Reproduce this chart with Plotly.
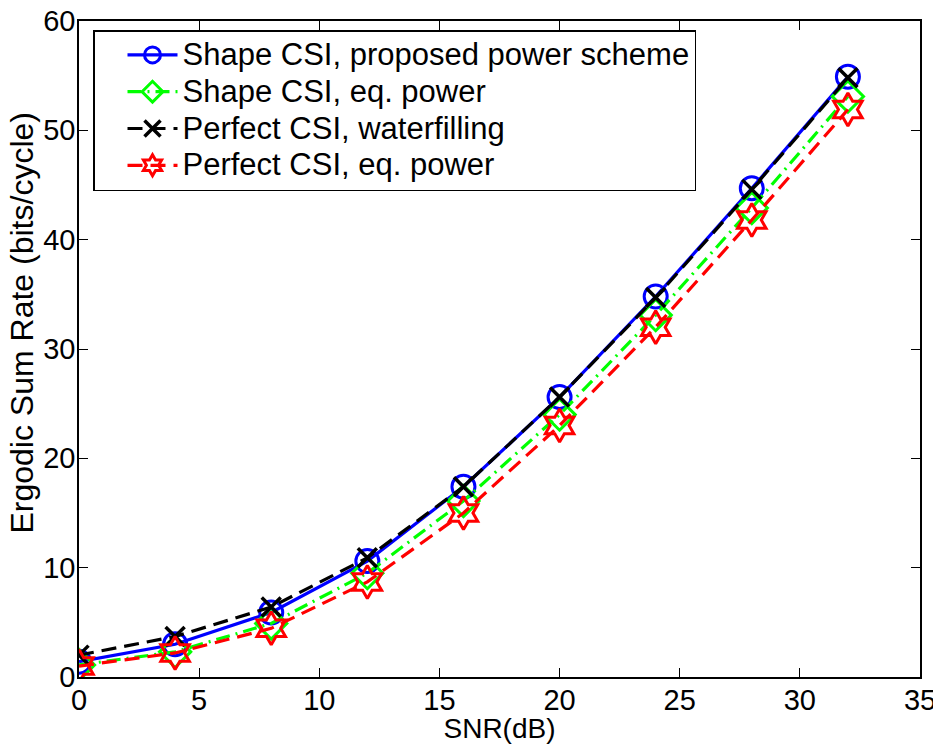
import plotly.graph_objects as go

snr = [0, 4, 8, 12, 16, 20, 24, 28, 32]
shape_prop = [1.4, 3.0, 5.9, 10.6, 17.4, 25.6, 34.8, 44.7, 54.9]
shape_eq = [1.1, 2.3, 4.9, 9.5, 16.1, 24.0, 33.1, 42.9, 53.1]
perf_wf = [2.0, 3.7, 6.4, 10.9, 17.4, 25.6, 34.7, 44.6, 54.8]
perf_eq = [1.0, 2.2, 4.45, 8.7, 15.0, 23.0, 32.0, 41.8, 51.9]

names = ["Shape CSI, proposed power scheme", "Shape CSI, eq. power",
         "Perfect CSI, waterfilling", "Perfect CSI, eq. power"]

FONT = "Liberation Sans, Arial, Helvetica"


def legend_label(s):
    return '<span style="font-size:31px">' + s + '</span>'


fig = go.Figure()
fig.add_trace(go.Scatter(x=snr, y=shape_prop, name=legend_label(names[0]), mode="lines+markers",
                         line=dict(color="#0000ff", width=3.2, dash="solid"),
                         marker=dict(symbol="circle-open", size=23, color="#0000ff",
                                     line=dict(width=3, color="#0000ff"))))
fig.add_trace(go.Scatter(x=snr, y=shape_eq, name=legend_label(names[1]), mode="lines+markers",
                         line=dict(color="#00ff00", width=3.2, dash="14px,6px,2px,6px"),
                         marker=dict(symbol="diamond-open", size=24, color="#00ff00",
                                     line=dict(width=3, color="#00ff00"))))
fig.add_trace(go.Scatter(x=snr, y=perf_wf, name=legend_label(names[2]), mode="lines+markers",
                         line=dict(color="#000000", width=3.2, dash="15px,8px"),
                         marker=dict(symbol="x-thin-open", size=19, color="#000000",
                                     line=dict(width=3.5, color="#000000"))))
fig.add_trace(go.Scatter(x=snr, y=perf_eq, name=legend_label(names[3]), mode="lines+markers",
                         line=dict(color="#ff0000", width=3.2, dash="15px,8px"),
                         marker=dict(symbol="hexagram-open", size=25, color="#ff0000",
                                     line=dict(width=3, color="#ff0000"))))

axis_common = dict(showgrid=False, zeroline=False, showline=True, linecolor="black",
                   linewidth=1.5, mirror="ticks", ticks="inside", ticklen=9,
                   tickcolor="black", tickwidth=1.2, automargin=False,
                   ticklabeloverflow="allow",
                   tickfont=dict(family=FONT, size=29, color="black"))

fig.update_layout(
    width=933, height=744,
    margin=dict(l=79, r=13, t=21, b=67),
    paper_bgcolor="white", plot_bgcolor="white",
    font=dict(family=FONT, color="black"),
    xaxis=dict(range=[0, 35], dtick=5, ticklabelstandoff=-4,
               title=dict(text="SNR(dB)", font=dict(size=28), standoff=7),
               **axis_common),
    yaxis=dict(range=[0, 60], dtick=10, ticklabelstandoff=-4,
               **axis_common),
    legend=dict(x=(93 - 79) / 841, y=(677 - 30) / 656, xanchor="left", yanchor="top",
                bgcolor="white", bordercolor="black", borderwidth=1.5,
                font=dict(family=FONT, size=26, color="black"),
                tracegroupgap=0, itemwidth=50, indentation=28),
    showlegend=True,
    annotations=[dict(text="Ergodic Sum Rate (bits/cycle)", textangle=-90,
                      xref="paper", yref="paper", x=(22.5 - 79) / 841, y=0.5396,
                      xanchor="center", yanchor="middle", showarrow=False,
                      font=dict(family=FONT, size=32, color="black"))],
)

fig.write_html("out.html")
